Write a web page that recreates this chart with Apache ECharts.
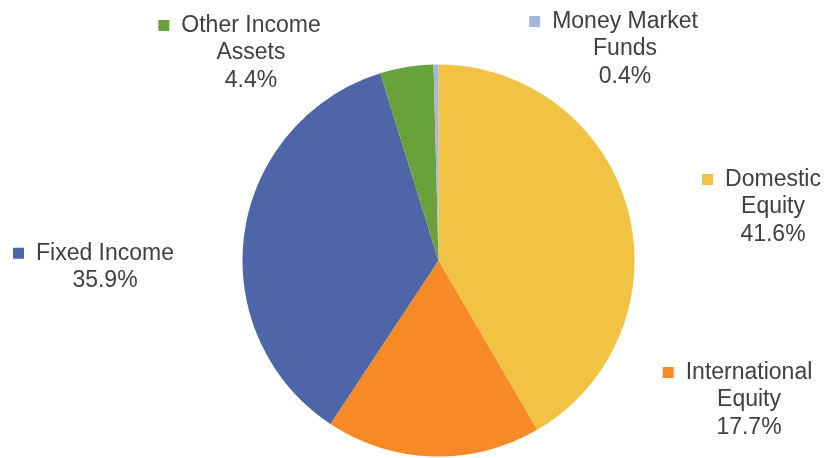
<!DOCTYPE html>
<html>
<head>
<meta charset="utf-8">
<script src="https://cdn.jsdelivr.net/npm/echarts@6/dist/echarts.min.js"></script>
<style>
  html, body { margin: 0; padding: 0; background: #ffffff; }
  #chart { width: 826px; height: 458px; }
</style>
</head>
<body>
<div id="chart"></div>
<script>
// Asset allocation, clockwise from 12 o'clock
const categories = ['Domestic\nEquity', 'International\nEquity', 'Fixed Income', 'Other Income\nAssets', 'Money Market\nFunds'];
const shares = [41.6, 17.7, 35.9, 4.4, 0.4];

const palette = ['#F2C343', '#F78A27', '#4E66A7', '#6AA23A', '#A8B6D8'];
// label block centres (px)
const labelSpots = [[773, 207], [749, 400], [105, 267], [251, 53], [625, 49]];

const MARK = 11, GAP = 12;

const rich = { t: { fontSize: 23, lineHeight: 27.5, color: '#404040', fontFamily: 'Liberation Sans, Arial, sans-serif' },
               pad: { width: MARK + GAP, height: MARK } };
palette.forEach((c, i) => {
  rich['m' + i] = { width: MARK, height: MARK, backgroundColor: c };
  rich['g' + i] = { width: GAP, height: MARK };
});

const chart = echarts.init(document.getElementById('chart'), null, { renderer: 'canvas' });
chart.setOption({
  animation: false,
  series: [{
    type: 'pie',
    center: [438.5, 260.5],
    radius: 196,
    startAngle: 90,
    clockwise: true,
    avoidLabelOverlap: false,
    data: categories.map((name, i) => ({ name, value: shares[i], itemStyle: { color: palette[i] } })),
    label: {
      show: true,
      align: 'center',
      formatter: p => {
        const lines = p.name.split('\n');
        lines.push(p.value.toFixed(1) + '%');
        return lines.map((l, k) => k === 0
          ? `{m${p.dataIndex}|}{g${p.dataIndex}|}{t|${l}}{pad|}`
          : `{t|${l}}`).join('\n');
      },
      rich
    },
    labelLine: { show: false },
    labelLayout: p => ({
      x: labelSpots[p.dataIndex][0],
      y: labelSpots[p.dataIndex][1],
      align: 'center',
      verticalAlign: 'middle'
    })
  }]
});
</script>
</body>
</html>
